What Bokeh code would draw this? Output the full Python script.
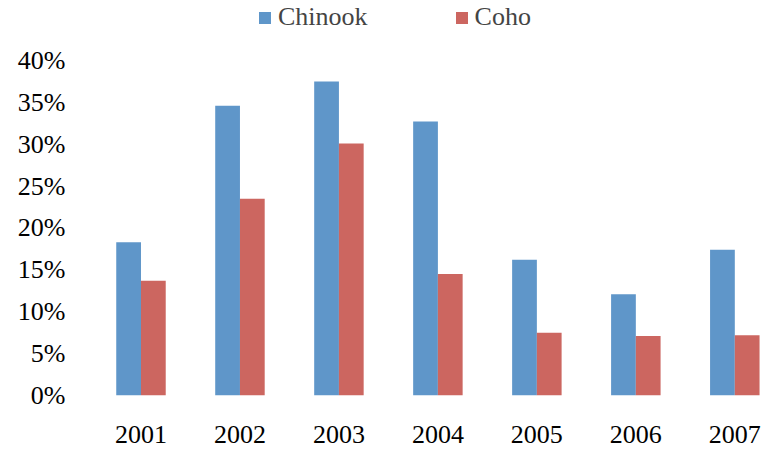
from bokeh.plotting import figure
from bokeh.models import (ColumnDataSource, Range1d, FixedTicker,
                          NumeralTickFormatter, Legend, LegendItem)
from bokeh.transform import dodge
from bokeh.embed import file_html
from bokeh.resources import INLINE

years = ["2001", "2002", "2003", "2004", "2005", "2006", "2007"]
chinook = [0.183, 0.346, 0.375, 0.327, 0.162, 0.121, 0.174]
coho = [0.137, 0.235, 0.301, 0.145, 0.075, 0.071, 0.072]
y_ticks = [0.0, 0.05, 0.10, 0.15, 0.20, 0.25, 0.30, 0.35, 0.40]

BLUE = "#5F96C9"
RED = "#CC6660"
FONT = "Liberation Serif"
FS = "26px"

idx = list(range(len(years)))
src = ColumnDataSource(dict(x=idx, chinook=chinook, coho=coho))

p = figure(frame_width=673, frame_height=395, output_backend="svg", toolbar_location=None,
           x_range=Range1d(-0.5, 6.30), y_range=Range1d(0, 0.4716),
           min_border_left=91, min_border_right=0, min_border_top=0, min_border_bottom=55)
p.outline_line_color = None
p.background_fill_color = "white"
p.border_fill_color = "white"

r1 = p.vbar(x=dodge("x", -0.125, range=p.x_range), top="chinook", width=0.25,
            source=src, fill_color=BLUE, line_color=None)
r2 = p.vbar(x=dodge("x", 0.125, range=p.x_range), top="coho", width=0.25,
            source=src, fill_color=RED, line_color=None)

p.grid.grid_line_color = None

xa = p.xaxis[0]
xa.ticker = FixedTicker(ticks=idx)
xa.major_label_overrides = {i: y for i, y in zip(idx, years)}
xa.axis_line_color = None
xa.major_tick_line_color = None
xa.minor_tick_line_color = None
xa.major_tick_out = 0
xa.major_tick_in = 0
xa.major_label_standoff = 30
xa.major_label_text_font = FONT
xa.major_label_text_font_size = FS
xa.major_label_text_color = "black"

ya = p.yaxis[0]
ya.ticker = FixedTicker(ticks=y_ticks)
ya.formatter = NumeralTickFormatter(format="0%")
ya.axis_line_color = None
ya.major_tick_line_color = None
ya.minor_tick_line_color = None
ya.major_tick_out = 0
ya.major_tick_in = 0
ya.major_label_standoff = 26
ya.major_label_text_font = FONT
ya.major_label_text_font_size = FS
ya.major_label_text_color = "black"

legend = Legend(items=[LegendItem(label="Chinook", renderers=[r1]),
                       LegendItem(label="Coho", renderers=[r2])],
                orientation="horizontal", location=(166, 363),
                padding=0, margin=0, spacing=86, label_standoff=6,
                glyph_width=15, glyph_height=15,
                border_line_color=None, background_fill_alpha=0,
                label_text_font=FONT, label_text_font_size=FS)
p.add_layout(legend, "center")

open("out.html", "w").write(file_html(p, INLINE))
